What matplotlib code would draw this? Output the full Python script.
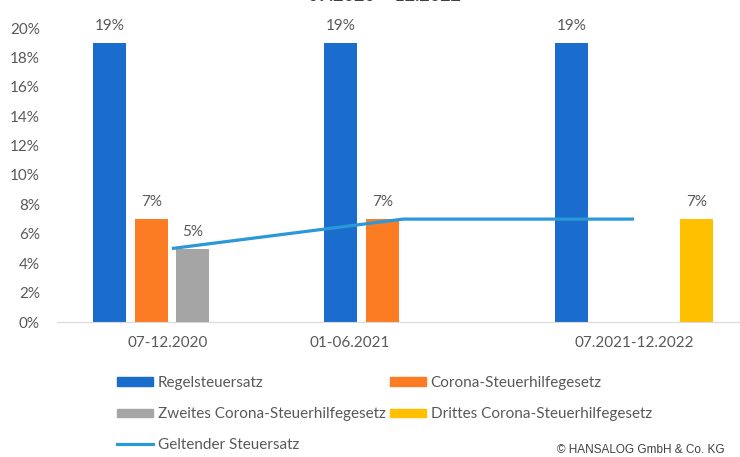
import numpy as np
import matplotlib
matplotlib.use('Agg')
import matplotlib.pyplot as plt
from matplotlib.patches import Patch
from matplotlib.lines import Line2D
from matplotlib.ticker import PercentFormatter

plt.rcParams['font.family'] = ['Lato', 'DejaVu Sans']

# data
categories = ['07-12.2020', '01-06.2021', '07.2021-12.2022']
regel = [0.19, 0.19, 0.19]
corona = [0.07, 0.07, np.nan]
zweites = [0.05, np.nan, np.nan]
drittes = [np.nan, np.nan, 0.07]
geltend = [0.05, 0.07, 0.07]
title = '07.2020 – 12.2022'

series = [
    ('Regelsteuersatz', regel, '#1a6dcc'),
    ('Corona-Steuerhilfegesetz', corona, '#fb7c23'),
    ('Zweites Corona-Steuerhilfegesetz', zweites, '#a5a5a5'),
    ('Drittes Corona-Steuerhilfegesetz', drittes, '#ffc000'),
]

TXT = '#595959'
W, H = 740, 457
fig = plt.figure(figsize=(W / 100, H / 100), dpi=100)
ax = fig.add_axes([56.5 / W, 135 / H, 693 / W, 294 / H])

x = np.arange(len(categories))
slot, width = 0.18, 0.143
for i, (name, vals, col) in enumerate(series):
    pos = x + (i - 1.5) * slot
    ax.bar(pos, vals, width, color=col, zorder=2)
    for px, v in zip(pos, vals):
        if not np.isnan(v):
            ax.annotate(f'{v:.0%}', (px, v), xytext=(0, 7), textcoords='offset points',
                        ha='center', va='bottom', fontsize=11, color=TXT,
                        annotation_clip=False)

ax.plot(x, geltend, color='#2b98d8', lw=2.3, zorder=3, solid_capstyle='butt')

ax.set_xlim(-0.5, 2.5)
ax.set_ylim(0, 0.20)
ax.set_yticks(np.arange(0, 0.201, 0.02))
ax.yaxis.set_major_formatter(PercentFormatter(1.0, decimals=0))
# label placement as in the source picture
ax.set_xticks(x + np.array([-0.02, -0.23, 0.0]))
ax.set_xticklabels(categories)
ax.tick_params(length=0, labelsize=11, labelcolor=TXT)
ax.tick_params(axis='x', pad=10)
ax.tick_params(axis='y', pad=12)
for s in ['top', 'right', 'left']:
    ax.spines[s].set_visible(False)
ax.spines['bottom'].set_color('#d9d9d9')

handles = [
    Patch(color=series[0][2], label=series[0][0]),
    Patch(color=series[2][2], label=series[2][0]),
    Line2D([], [], color='#2b98d8', lw=2.3, label='Geltender Steuersatz'),
    Patch(color=series[1][2], label=series[1][0]),
    Patch(color=series[3][2], label=series[3][0]),
]
fig.legend(handles=handles, ncol=2, loc='upper left', bbox_to_anchor=(117 / W, 1 - 376 / H),
           frameon=False, fontsize=11, labelcolor=TXT, handlelength=2.35,
           handleheight=0.45, handletextpad=0.33, columnspacing=0.26, labelspacing=1.12,
           borderpad=0, borderaxespad=0)

fig.text(385 / W, 1 - 4 / H, title, ha='center', va='bottom', fontsize=13,
         fontweight='bold', color='#404040')
fig.text(725 / W, 1 - 450 / H, '© HANSALOG GmbH & Co. KG', ha='right', va='center',
         fontsize=8.5, color='#404040', family='Liberation Sans')

fig.savefig('out.png', dpi=100)
